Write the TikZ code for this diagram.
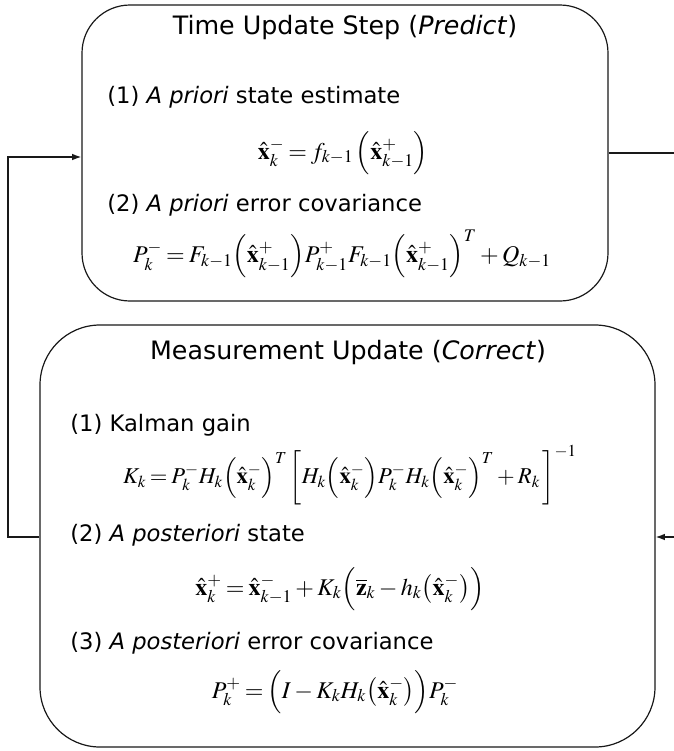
\documentclass[tikz,border=0pt]{standalone}
\usepackage{amsmath}
\usepackage{mathptmx}
\usepackage[no-math]{fontspec}
\setmainfont{DejaVu Sans}
\usetikzlibrary{arrows.meta, positioning, calc}
\definecolor{kfline}{RGB}{25,25,25}
\newcommand{\xh}{\hat{\mathbf{x}}}
\thickmuskip=3mu plus 2mu
\medmuskip=2.5mu plus 2mu

\begin{document}
\begin{tikzpicture}[x=0.75pt, y=-0.75pt,
	stepbox/.style={draw=kfline, line width=0.9pt, rounded corners=#1, inner sep=0pt},
	heading/.style={inner sep=0pt, font=\fontsize{19}{22}\selectfont},
	itemtxt/.style={anchor=west, inner sep=0pt, font=\fontsize{17}{20}\selectfont},
	eqn/.style={inner sep=0pt, font=\fontsize{18}{21}\selectfont},
	flow/.style={draw=kfline, line width=1pt},
	tip/.style={-{Latex[length=7pt,width=5pt]}}]
	\useasboundingbox (0,0) rectangle (674,751);

	\node[stepbox=36pt, minimum width=394.5pt, minimum height=222pt] (tu) at (345,153) {};
	\node[heading] (tuhead) at (345,28) {Time Update Step (\textit{Predict})};
	\node[itemtxt] (tu1) at (107,97) {(1) \textit{A priori} state estimate};
	\node[eqn] (tueq1) at (343,153) {$\xh_k^- = f_{k-1}\,\Bigl(\xh_{k-1}^+\Bigr)$};
	\node[itemtxt] (tu2) at (107,205) {(2) \textit{A priori} error covariance};
	\node[eqn] (tueq2) at (342,254) {$P_k^- = F_{k-1}\Bigl(\xh_{k-1}^+\Bigr)P_{k-1}^+F_{k-1}\Bigl(\xh_{k-1}^+\Bigr)^T + Q_{k-1}$};

	\node[stepbox=45pt, minimum width=461.25pt, minimum height=316.5pt] (mu) at (347.5,536) {};
	\node[heading] (muhead) at (348,353) {Measurement Update (\textit{Correct})};
	\node[itemtxt] (mu1) at (70,425) {(1) Kalman gain};
	\node[eqn, font=\fontsize{17}{20}\selectfont] (mueq1) at (350,475) {$K_k = P_k^-H_k\Bigl(\xh_k^-\Bigr)^T\left[\rule[-15pt]{0pt}{40pt}H_k\Bigl(\xh_k^-\Bigr)P_k^-H_k\Bigl(\xh_k^-\Bigr)^T + R_k\,\right]^{-1}$};
	\node[itemtxt] (mu2) at (70,535) {(2) \textit{A posteriori} state};
	\node[eqn] (mueq2) at (340,589) {$\xh_k^+ = \xh_{k-1}^- + K_k\Bigl(\overline{\mathbf{z}}_k - h_k\bigl(\xh_k^-\bigr)\Bigr)$};
	\node[itemtxt] (mu3) at (70,643) {(3) \textit{A posteriori} error covariance};
	\node[eqn] (mueq3) at (335,692) {$P_k^+ = \Bigl(I - K_kH_k\bigl(\xh_k^-\bigr)\Bigr)P_k^-$};

	\coordinate (outR) at (674,153);
	\coordinate (inR) at (674,537);
	\coordinate (loopL) at (8,157);
	\draw[flow] (tu.east) -- (outR);
	\draw[flow, tip] (inR) -- (mu.east |- inR);
	\draw[flow, tip] (mu.west |- inR) -| (loopL) -- (tu.west |- loopL);
\end{tikzpicture}
\end{document}
